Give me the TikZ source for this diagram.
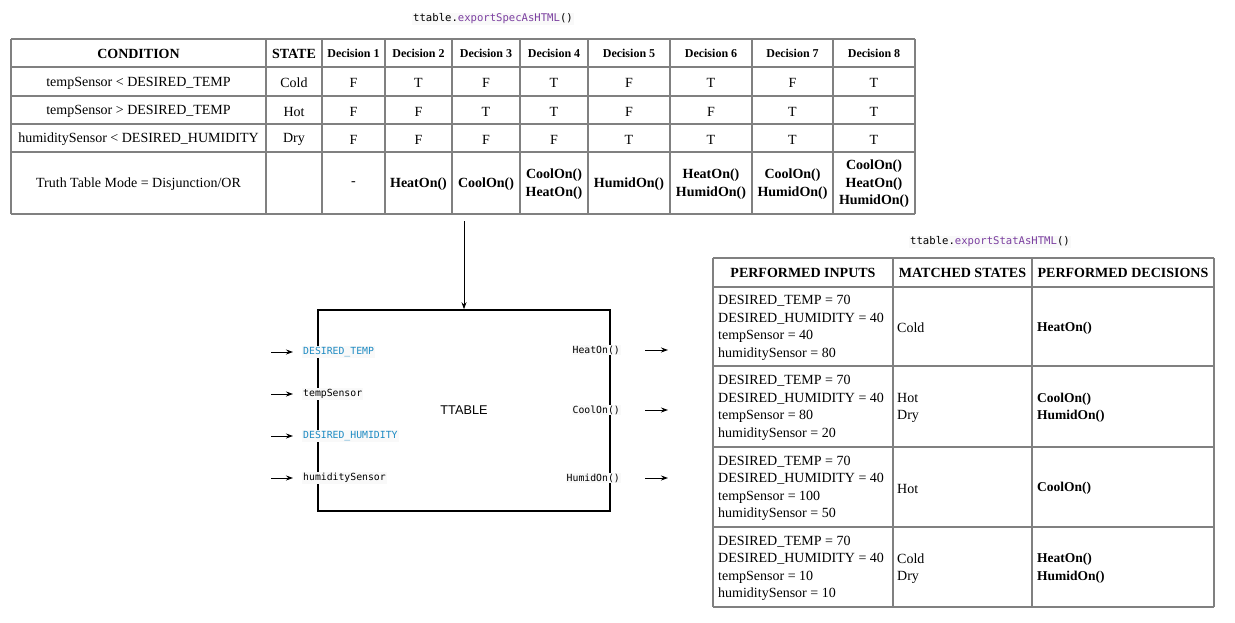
\documentclass[tikz,border=0pt]{standalone}
\usepackage{fontspec}
\setmainfont{Liberation Serif}
\setsansfont{Liberation Sans}
\setmonofont{DejaVu Sans Mono}
\usetikzlibrary{arrows.meta}
\definecolor{codeblue}{HTML}{1E8BC3}
\definecolor{codepurple}{HTML}{7B3FA0}
\definecolor{gridgray}{HTML}{808080}
\begin{document}
\begin{tikzpicture}[x=1pt, y=-1pt,
    grid/.style = {draw=gridgray, line width=1.1pt},
    head/.style = {font=\bfseries\fontsize{14}{17}\selectfont, inner sep=1pt},
    dechead/.style = {font=\bfseries\fontsize{12}{14}\selectfont, inner sep=1pt},
    cell/.style = {font=\fontsize{14}{17.5}\selectfont, inner sep=1pt, align=center},
    act/.style = {font=\bfseries\fontsize{14}{17.5}\selectfont, inner sep=1pt, align=center},
    stat/.style = {font=\fontsize{14}{17.5}\selectfont, inner sep=0pt, align=left, anchor=west},
    code/.style = {font=\ttfamily\fontsize{9.8}{12}\selectfont, fill=gray!5, inner sep=1pt},
    flow/.style = {-{Stealth[length=7pt, width=5pt]}, line width=0.9pt}]
  \useasboundingbox (0,0) rectangle (1235,623);

  \node[code, font=\ttfamily\fontsize{10.6}{13}\selectfont] (spec) at (493,19) {ttable.\textcolor{codepurple}{exportSpecAsHTML}()};

  \foreach \x in {11,266,322,385,452,520,588,670,752,833,915}
    \draw[grid] (\x,39) -- (\x,214);
  \foreach \y in {39,67,96,124,152,214}
    \draw[grid] (11,\y) -- (915,\y);

  \node[head] (cond) at (138.5,53.5) {CONDITION};
  \node[head] (state) at (294,53.5) {STATE};
  \node[cell] (c1) at (138.5,83) {tempSensor < DESIRED\_TEMP};
  \node[cell] (c2) at (138.5,111.5) {tempSensor > DESIRED\_TEMP};
  \node[cell] (c3) at (138.5,139.5) {humiditySensor < DESIRED\_HUMIDITY};
  \node[cell] (mode) at (138.5,184) {Truth Table Mode = Disjunction/OR};
  \node[cell] (s1) at (294,83) {Cold};
  \node[cell] (s2) at (294,111.5) {Hot};
  \node[cell] (s3) at (294,139.5) {Dry};

  \foreach \cx/\a/\b/\c [count=\i] in {353.5/F/F/F, 418.5/T/F/F, 486/F/T/F, 554/T/T/F,
      629/F/F/T, 711/T/F/T, 792.5/F/T/T, 874/T/T/T} {
    \node[dechead] (dec\i) at (\cx,53.5) {Decision \i};
    \node[cell] (a\i) at (\cx,83) {\a};
    \node[cell] (b\i) at (\cx,111.5) {\b};
    \node[cell] (d\i) at (\cx,139.5) {\c};
  }

  \node[cell] (r1) at (353.5,184) {-};
  \node[act] (r2) at (418.5,184) {HeatOn()};
  \node[act] (r3) at (486,184) {CoolOn()};
  \node[act] (r4) at (554,184) {CoolOn()\\HeatOn()};
  \node[act] (r5) at (629,184) {HumidOn()};
  \node[act] (r6) at (711,184) {HeatOn()\\HumidOn()};
  \node[act] (r7) at (792.5,184) {CoolOn()\\HumidOn()};
  \node[act] (r8) at (874,184) {CoolOn()\\HeatOn()\\HumidOn()};

  \coordinate (spectab) at (464,221);
  \node[draw, line width=1.6pt, minimum width=292pt, minimum height=201pt,
    font=\sffamily\fontsize{12.7}{15}\selectfont] (ttable) at (464,410.5) {TTABLE};
  \draw[flow] (spectab) -- (ttable.north);

  \foreach \nm/\y/\col/\txt in {dtemp/352/codeblue/DESIRED\_TEMP, tsens/394/black/tempSensor,
      dhum/436/codeblue/DESIRED\_HUMIDITY, hsens/478/black/humiditySensor} {
    \node[code, text=\col, anchor=west] (\nm) at (302,\y) {\txt};
    \coordinate (\nm-src) at (271,\y);
    \draw[flow] (\nm-src) -- ([xshift=-9pt]\nm.west);
  }

  \foreach \nm/\y/\txt in {heat/350/HeatOn(), cool/410/CoolOn(), humid/478/HumidOn()} {
    \node[code, anchor=east] (\nm) at (621,\y) {\txt};
    \coordinate (\nm-dst) at (668,\y);
    \draw[flow, shorten <=24pt] (\nm.east) -- (\nm-dst);
  }

  \node[code, font=\ttfamily\fontsize{10.6}{13}\selectfont] (statlbl) at (990,242) {ttable.\textcolor{codepurple}{exportStatAsHTML}()};

  \foreach \x in {713,893,1032,1214}
    \draw[grid] (\x,258) -- (\x,607);
  \foreach \y in {258,287,366,447,527,607}
    \draw[grid] (713,\y) -- (1214,\y);

  \node[head] (inputs) at (803,273) {PERFORMED INPUTS};
  \node[head] (matched) at (962.5,273) {MATCHED STATES};
  \node[head] (performed) at (1123,273) {PERFORMED DECISIONS};

  \foreach \ry/\t/\h/\st/\dc [count=\i] in {328/40/80/{Cold}/{HeatOn()},
      408/80/20/{Hot\\Dry}/{CoolOn()\\HumidOn()}, 488.5/100/50/{Hot}/{CoolOn()},
      568.5/10/10/{Cold\\Dry}/{HeatOn()\\HumidOn()}} {
    \node[stat] (in\i) at (718,\ry) {DESIRED\_TEMP = 70\\DESIRED\_HUMIDITY = 40\\tempSensor = \t\\humiditySensor = \h};
    \node[stat] (st\i) at (897,\ry) {\st};
    \node[stat, font=\bfseries\fontsize{13.5}{17.5}\selectfont] (dc\i) at (1037,\ry) {\dc};
  }
\end{tikzpicture}
\end{document}
